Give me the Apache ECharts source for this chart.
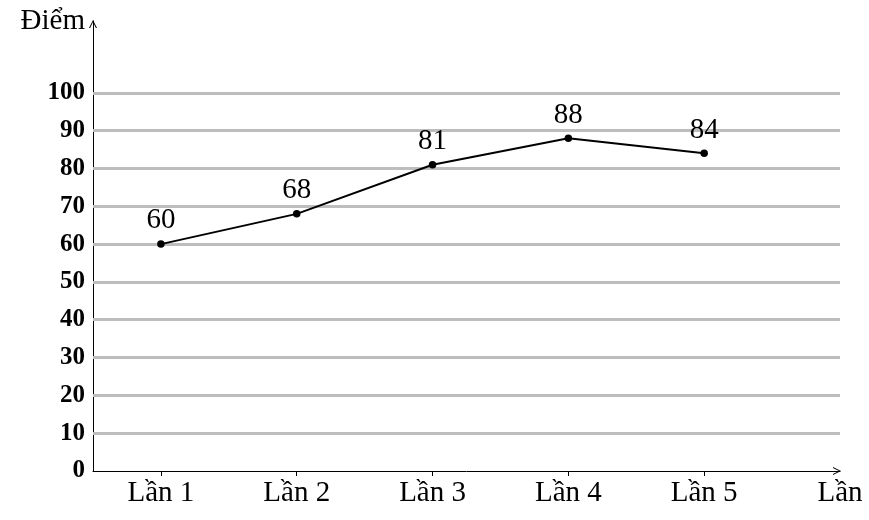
<!DOCTYPE html>
<html><head><meta charset="utf-8">
<script src="https://cdn.jsdelivr.net/npm/echarts@6/dist/echarts.min.js"></script>
<style>html,body{margin:0;padding:0;background:#fff}#c{width:869px;height:520px}</style>
</head><body><div id="c"></div>
<script>
var categories = ['Lần 1', 'Lần 2', 'Lần 3', 'Lần 4', 'Lần 5'];
var scores = [60, 68, 81, 88, 84];
var yTicks = [0, 10, 20, 30, 40, 50, 60, 70, 80, 90, 100];
var gridValues = [10, 20, 30, 40, 50, 60, 70, 80, 90, 100];
var xName = 'Lần';
var yName = 'Điểm';

var FONT = '"Liberation Serif", "DejaVu Serif", serif';
var arrow = 'path://M0,10 L5,0 L10,10 L8.6,10 L5,2.6 L1.4,10 Z';
var chart = echarts.init(document.getElementById('c'));
var xVals = categories.map(function (_, i) { return i + 1; });
chart.setOption({
  animation: false,
  grid: { left: 93, right: 29, top: 21, bottom: 49 },
  xAxis: {
    type: 'value', min: 0.5, max: 6,
    name: xName, nameLocation: 'end', nameGap: 0,
    nameTextStyle: { fontFamily: FONT, fontSize: 29, color: '#000', align: 'center', verticalAlign: 'top', padding: [8, 0, 0, 0] },
    axisLine: { lineStyle: { color: '#000', width: 1 }, symbol: ['none', arrow], symbolSize: [11, 8], symbolOffset: [0, -3] },
    axisTick: { show: true, customValues: xVals, length: 5, lineStyle: { color: '#000' } },
    axisLabel: { customValues: xVals, formatter: function (v) { return categories[Math.round(v) - 1] || ''; }, fontFamily: FONT, fontSize: 29, color: '#000', margin: 8 },
    splitLine: { show: false }
  },
  yAxis: {
    type: 'value', min: 0, max: 119,
    name: yName, nameLocation: 'end', nameGap: 0,
    nameTextStyle: { fontFamily: FONT, fontSize: 29, color: '#000', align: 'right', verticalAlign: 'middle', padding: [8, 8, 0, 0] },
    axisLine: { show: true, lineStyle: { color: '#000', width: 1 }, symbol: ['none', arrow], symbolSize: [11, 8], symbolOffset: [0, -3] },
    axisTick: { show: false },
    axisLabel: { customValues: yTicks, fontFamily: FONT, fontSize: 25, fontWeight: 'bold', color: '#000', margin: 8 },
    splitLine: { show: false }
  },
  series: [{
    type: 'line',
    data: scores.map(function (v, i) { return [xVals[i], v]; }),
    z: 5,
    lineStyle: { color: '#000', width: 2 },
    itemStyle: { color: '#000' },
    symbol: 'circle', symbolSize: 7.5,
    label: { show: true, position: 'top', distance: 5, fontFamily: FONT, fontSize: 29, color: '#000', formatter: function (p) { return p.value[1]; } },
    markLine: {
      silent: true, symbol: ['none', 'none'], z: 1,
      label: { show: false },
      lineStyle: { color: '#bdbdbd', width: 3, type: 'solid' },
      data: gridValues.map(function (v) { return { yAxis: v }; })
    }
  }]
});
</script></body></html>
